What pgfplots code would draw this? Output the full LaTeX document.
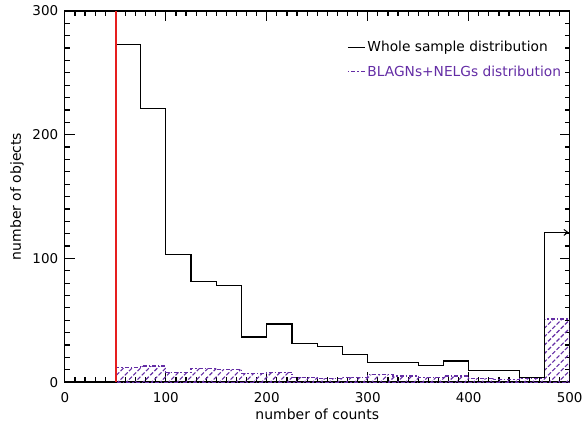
\documentclass[border=0pt]{standalone}
\usepackage{pgfplots}
\pgfplotsset{compat=1.18}
\usepackage{fontspec}
\setmainfont{DejaVu Sans}
\usetikzlibrary{patterns.meta,arrows.meta}
\definecolor{myviolet}{RGB}{100,45,165}
\begin{document}
\fontsize{13.5}{16}\selectfont
\begin{tikzpicture}
\begin{axis}[
  name=ax,
  scale only axis, width=506pt, height=372pt,
  xmin=0, xmax=500, ymin=0, ymax=300,
  xtick={0,100,...,500}, ytick={0,100,200,300},
  minor xtick={10,20,...,490}, minor ytick={10,20,...,290},
  xtick pos=both, ytick pos=both,
  xtick align=inside, ytick align=inside,
  axis line style={line width=1.3pt},
  major tick style={line width=1.2pt, draw=black},
  minor tick style={line width=1.2pt, draw=black},
  major tick length=0.35cm, minor tick length=0.18cm,
  /pgf/number format/assume math mode=true,
  ticklabel style={font=\fontsize{13.5}{16}\selectfont},
  xticklabel style={yshift=-6pt},
  yticklabel style={xshift=-2pt},
  xlabel={number of counts}, ylabel={number of objects},
  label style={font=\fontsize{14}{16}\selectfont},
  xlabel style={at={(axis description cs:0.5,-0.086)}, anchor=center},
  ylabel style={at={(axis description cs:-0.0949,0.5)}, anchor=center},
  legend style={draw=none, fill=none, at={(axis description cs:0.553,0.93)}, anchor=north west,
    row sep=8pt, font=\fontsize{13.8}{16}\selectfont},
  legend cell align=left,
  legend image code/.code={\draw[#1] (0pt,0pt) -- (17pt,0pt);},
]
\addlegendimage{black, line width=1.2pt}
\addlegendentry{Whole sample distribution}
\addlegendimage{myviolet, line width=1.3pt, dash pattern=on 1.5pt off 2pt on 4pt off 2pt}
\addlegendentry{\textcolor{myviolet}{BLAGNs+NELGs distribution}}

\addplot[forget plot, const plot, draw=myviolet, line width=1.2pt,
  dash pattern=on 4pt off 2pt on 1.5pt off 2pt,
  pattern={Lines[angle=45,distance=6pt,line width=1.1pt]}, pattern color=myviolet]
  coordinates {(50,12)(75,13)(100,8)(125,11)(150,10)(175,7)(200,8)(225,4)(250,3)(275,4)(300,6)(325,5)(350,4)(375,5)(400,3)(425,2)(450,3)(475,51)(500,51)} \closedcycle;

\addplot[forget plot, const plot, black, line width=1.2pt]
  coordinates {(50,0)(50,273)(75,221)(100,103)(125,81)(150,78)(175,36.5)(200,47)(225,31)(250,29)(275,22.5)(300,16)(325,16)(350,13.7)(375,17)(400,9.7)(425,9.7)(450,4)(475,121)(500,121)(500,0)};
\addplot[forget plot, black, line width=1pt, -{Straight Barb[length=4pt,width=6pt]}] coordinates {(488,121)(499,121)};

\addplot[forget plot, draw={rgb,255:red,230;green,30;blue,30}, line width=1.6pt, solid] coordinates {(50.6,0)(50.6,300)};
\end{axis}
\path (ax.south west) ++(-65pt,-40pt) rectangle ++(587pt,423pt);
\end{tikzpicture}
\end{document}
